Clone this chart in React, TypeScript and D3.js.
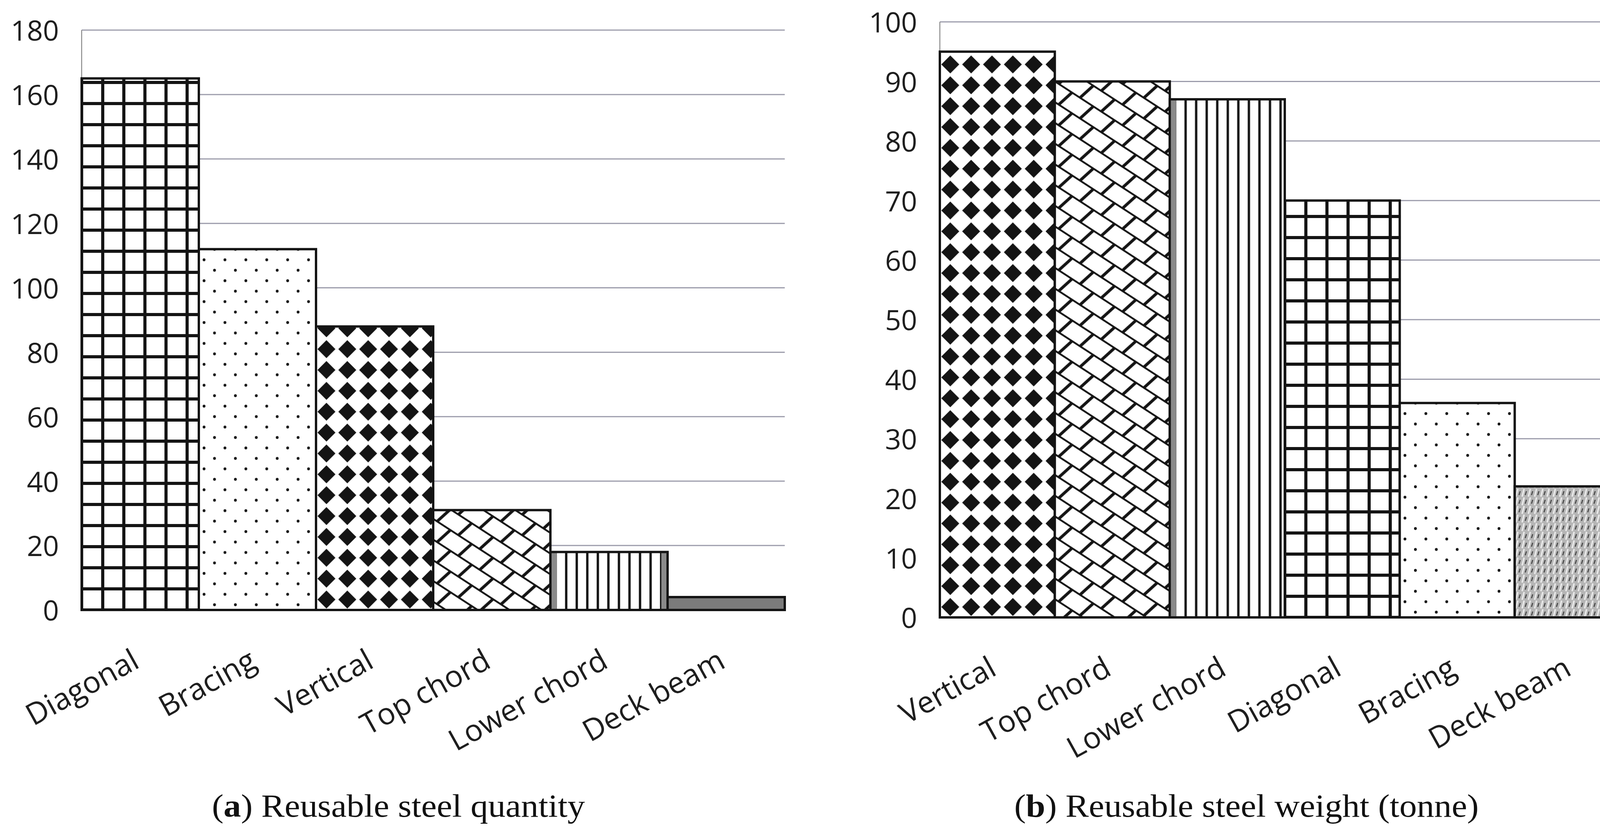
import * as d3 from 'd3';
import React from 'react';

// panel (a): reusable steel quantity
const quantityCategories = ['Diagonal', 'Bracing', 'Vertical', 'Top chord', 'Lower chord', 'Deck beam'];
const quantityValues = [165, 112, 88, 31, 18, 4];
const quantityTicks = [0, 20, 40, 60, 80, 100, 120, 140, 160, 180];

// panel (b): reusable steel weight (tonne)
const weightCategories = ['Vertical', 'Top chord', 'Lower chord', 'Diagonal', 'Bracing', 'Deck beam'];
const weightValues = [95, 90, 87, 70, 36, 22];
const weightTicks = [0, 10, 20, 30, 40, 50, 60, 70, 80, 90, 100];

// which hatch each member gets
const fillKinds: Record<string, string> = {
  Diagonal: 'grid',
  Bracing: 'dots',
  Vertical: 'diamonds',
  'Top chord': 'shingle',
  'Lower chord': 'vlines',
};

const W = 4209;
const H = 2142;
const SANS = "'Open Sans', 'DejaVu Sans', sans-serif";
const SERIF = "'Liberation Serif', 'DejaVu Serif', serif";
const INK = '#141414';

type Panel = {
  key: string;
  categories: string[];
  values: number[];
  ticks: number[];
  left: number;
  right: number;
  top: number;
  bottom: number;
  deck: string;
  letter: string;
  caption: string;
  captionX: number;
  captionW: number;
};

const panels: Panel[] = [
  {
    key: 'a', categories: quantityCategories, values: quantityValues, ticks: quantityTicks,
    left: 209, right: 2009, top: 77, bottom: 1561, deck: 'solid',
    letter: 'a', caption: ') Reusable steel quantity', captionX: 1020, captionW: 955,
  },
  {
    key: 'b', categories: weightCategories, values: weightValues, ticks: weightTicks,
    left: 2406, right: 4172, top: 56, bottom: 1580, deck: 'weave',
    letter: 'b', caption: ') Reusable steel weight (tonne)', captionX: 3191, captionW: 1189,
  },
];

function addPattern(defs: any, id: string, kind: string, ox: number, oy: number) {
  const dims: Record<string, [number, number]> = {
    grid: [54, 54], dots: [53.5, 53.5], diamonds: [53.4, 53.4], shingle: [54.5, 53], vlines: [27, 54], weave: [16, 22],
  };
  const [tw, th] = dims[kind];
  const p = defs.append('pattern')
    .attr('id', id)
    .attr('patternUnits', 'userSpaceOnUse')
    .attr('x', ox)
    .attr('y', oy)
    .attr('width', tw)
    .attr('height', th);

  if (kind === 'weave') {
    p.append('rect').attr('width', tw).attr('height', th).attr('fill', '#b5b5b5');
    p.append('path').attr('d', 'M3 21 L8 1').attr('stroke', '#ebebeb').attr('stroke-width', 4);
    p.append('path').attr('d', 'M11 17 L14 7').attr('stroke', '#383838').attr('stroke-width', 2.6);
    return;
  }
  p.append('rect').attr('width', tw).attr('height', th).attr('fill', '#fff');

  if (kind === 'grid') {
    p.append('rect').attr('x', 0).attr('y', 0).attr('width', 4).attr('height', th).attr('fill', INK);
    p.append('rect').attr('x', tw - 4).attr('y', 0).attr('width', 4).attr('height', th).attr('fill', INK);
    p.append('rect').attr('x', 0).attr('y', 0).attr('width', tw).attr('height', 4).attr('fill', INK);
    p.append('rect').attr('x', 0).attr('y', th - 4).attr('width', tw).attr('height', 4).attr('fill', INK);
  } else if (kind === 'dots') {
    p.append('circle').attr('cx', tw / 4).attr('cy', th / 4).attr('r', 3.6).attr('fill', INK);
    p.append('circle').attr('cx', (3 * tw) / 4).attr('cy', (3 * th) / 4).attr('r', 3.6).attr('fill', INK);
  } else if (kind === 'diamonds') {
    const c = tw / 2;
    const r = 23;
    p.append('path')
      .attr('d', `M${c} ${c - r} L${c + r} ${c} L${c} ${c + r} L${c - r} ${c} Z`)
      .attr('fill', INK);
  } else if (kind === 'vlines') {
    p.append('rect').attr('x', 10.5).attr('y', 0).attr('width', 6).attr('height', th).attr('fill', INK);
  } else if (kind === 'shingle') {
    // one course + one riser per tile, sheared so courses run downhill (slope 0.65)
    p.attr('patternTransform', `skewY(${(Math.atan(0.65) * 180) / Math.PI})`);
    const sw = 5.5;
    [0, th].forEach((y) =>
      p.append('line').attr('x1', -2).attr('x2', tw + 2).attr('y1', y).attr('y2', y).attr('stroke', INK).attr('stroke-width', sw),
    );
    const a = 10;
    [-tw, 0, tw].forEach((sx) =>
      p.append('line')
        .attr('x1', a + sx).attr('y1', th).attr('x2', a + 34 + sx).attr('y2', 0)
        .attr('stroke', INK).attr('stroke-width', sw).attr('stroke-linecap', 'round'),
    );
  }
}

function drawPanel(svg: any, defs: any, cfg: Panel) {
  const x = d3.scaleBand<string>().domain(cfg.categories).range([cfg.left, cfg.right]).padding(0);
  const y = d3.scaleLinear().domain([0, d3.max(cfg.ticks) as number]).range([cfg.bottom, cfg.top]);
  const g = svg.append('g').attr('class', `panel-${cfg.key}`);

  // gridlines
  g.selectAll('line.grid')
    .data(cfg.ticks)
    .enter()
    .append('line')
    .attr('class', 'grid')
    .attr('x1', cfg.left)
    .attr('x2', cfg.right)
    .attr('y1', (d: number) => y(d))
    .attr('y2', (d: number) => y(d))
    .attr('stroke', '#9c9cab')
    .attr('stroke-width', 3);

  g.append('line')
    .attr('x1', cfg.left).attr('x2', cfg.left)
    .attr('y1', y(d3.max(cfg.ticks) as number)).attr('y2', y(0))
    .attr('stroke', '#8a8a8a').attr('stroke-width', 2.5);

  // tick labels
  g.selectAll('text.tick')
    .data(cfg.ticks)
    .enter()
    .append('text')
    .attr('class', 'tick')
    .attr('x', cfg.left - 58)
    .attr('y', (d: number) => y(d))
    .attr('dy', '0.38em')
    .attr('text-anchor', 'end')
    .attr('font-family', SANS)
    .attr('font-size', 72)
    .attr('fill', '#1e1e1e')
    .text((d: number) => String(d));

  // bars
  cfg.categories.forEach((cat, i) => {
    const v = cfg.values[i];
    const bx = x(cat) as number;
    const bw = x.bandwidth();
    const by = y(v);
    const bh = y(0) - y(v);
    let fill = '#7b7b7b';
    const kind = cat === 'Deck beam' ? (cfg.deck === 'weave' ? 'weave' : '') : fillKinds[cat];
    if (kind) {
      const id = `pat-${cfg.key}-${i}`;
      addPattern(defs, id, kind, bx, y(0));
      fill = `url(#${id})`;
    }
    g.append('rect').attr('x', bx).attr('y', by).attr('width', bw).attr('height', bh).attr('fill', fill);
    if (cat === 'Lower chord') {
      g.append('rect').attr('x', bx + 3).attr('y', by).attr('width', 13).attr('height', bh).attr('fill', '#8a8a8a');
      if (cfg.key === 'a') {
        g.append('rect').attr('x', bx + bw - 16).attr('y', by).attr('width', 13).attr('height', bh).attr('fill', '#8a8a8a');
      }
    }
    g.append('rect')
      .attr('x', bx).attr('y', by).attr('width', bw).attr('height', bh)
      .attr('fill', 'none').attr('stroke', INK).attr('stroke-width', 6);
  });

  // category labels, tilted
  g.selectAll('text.cat')
    .data(cfg.categories)
    .enter()
    .append('text')
    .attr('class', 'cat')
    .attr('text-anchor', 'end')
    .attr('font-family', SANS)
    .attr('font-size', 77)
    .attr('fill', '#1e1e1e')
    .attr('transform', (d: string) => {
      const cx = (x(d) as number) + x.bandwidth() / 2 + 2;
      return `translate(${cx},${cfg.bottom + 145}) rotate(-29)`;
    })
    .text((d: string) => d);

  // caption
  const cap = svg.append('text')
    .attr('x', cfg.captionX)
    .attr('y', 2090)
    .attr('text-anchor', 'middle')
    .attr('font-family', SERIF)
    .attr('font-size', 83)
    .attr('textLength', cfg.captionW)
    .attr('lengthAdjust', 'spacingAndGlyphs')
    .attr('fill', '#111');
  cap.append('tspan').text('(');
  cap.append('tspan').attr('font-weight', 'bold').text(cfg.letter);
  cap.append('tspan').text(cfg.caption);
}

export default function App() {
  const ref = React.useRef<SVGSVGElement>(null);

  React.useEffect(() => {
    if (!ref.current) return;
    const svg = d3.select(ref.current);
    svg.selectAll('*').remove();
    svg.append('rect').attr('width', W).attr('height', H).attr('fill', '#fff');
    const defs = svg.append('defs');
    panels.forEach((p) => drawPanel(svg, defs, p));
  }, []);

  return (
    <svg
      ref={ref}
      width={W}
      height={H}
      viewBox={`0 0 ${W} ${H}`}
      style={{ position: 'absolute', left: 0, top: 0, background: '#fff' }}
    />
  );
}
